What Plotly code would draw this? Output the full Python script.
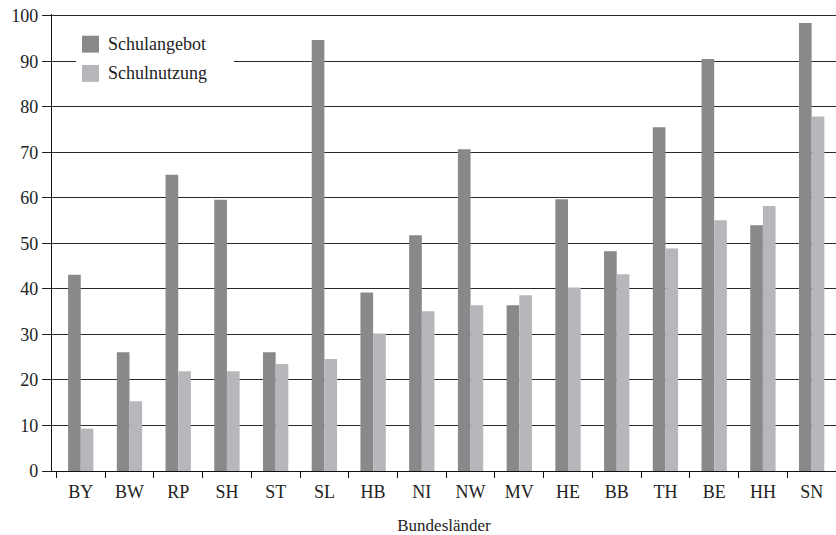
import plotly.graph_objects as go

laender = ["BY", "BW", "RP", "SH", "ST", "SL", "HB", "NI", "NW", "MV",
           "HE", "BB", "TH", "BE", "HH", "SN"]
schulangebot = [43.1, 26.1, 65.1, 59.6, 26.1, 94.7, 39.2, 51.8, 70.7, 36.4,
                59.7, 48.3, 75.5, 90.5, 54.0, 98.4]
schulnutzung = [9.3, 15.3, 21.9, 21.9, 23.5, 24.6, 30.2, 35.1, 36.4, 38.6,
                40.3, 43.2, 48.9, 55.1, 58.2, 77.9]
serien = ["Schulangebot", "Schulnutzung"]
farben = ["#88898b", "#b6b7ba"]

serif = "Liberation Serif, DejaVu Serif, serif"

fig = go.Figure()
for name, werte, farbe in zip(serien, [schulangebot, schulnutzung], farben):
    fig.add_trace(go.Bar(x=laender, y=werte, name=name, showlegend=False,
                         marker=dict(color=farbe, line=dict(width=0))))

# hand-made legend (white box over the 90 gridline, bigger squares)
fig.add_shape(type="rect", xref="paper", yref="paper",
              x0=0.0306, x1=0.232, y0=0.84, y1=0.975,
              fillcolor="white", line=dict(width=0), layer="above")
for i, (name, farbe) in enumerate(zip(serien, farben)):
    ymid = 0.934 - i * 0.064
    fig.add_shape(type="rect", xref="paper", yref="paper",
                  x0=0.0383, x1=0.0599, y0=ymid - 0.0185, y1=ymid + 0.0185,
                  fillcolor=farbe, line=dict(width=0), layer="above")
    fig.add_annotation(text=name, xref="paper", yref="paper",
                       x=0.0689, y=ymid, xanchor="left", yanchor="middle",
                       showarrow=False, font=dict(size=18))

fig.update_layout(
    width=836, height=535,
    margin=dict(l=52, r=0, t=14, b=64, autoexpand=False),
    paper_bgcolor="white", plot_bgcolor="white",
    font=dict(family=serif, size=18, color="#222"),
    barmode="group", bargap=0.48, bargroupgap=0,
    showlegend=False,
    xaxis=dict(
        type="category", range=[-0.59, 15.5],
        showline=True, linecolor="#111", linewidth=1.3,
        ticks="outside", tickson="boundaries", ticklen=6,
        tickcolor="#111", tickwidth=1.3,
        showgrid=False, automargin=False,
        tickfont=dict(size=18), ticklabelstandoff=4,
        title=dict(text="Bundesländer", font=dict(size=17), standoff=20),
    ),
    yaxis=dict(
        range=[0, 100.4], dtick=10, tick0=0,
        showline=True, linecolor="#111", linewidth=1.3,
        ticks="outside", ticklen=9, tickcolor="#222", tickwidth=1.3,
        showgrid=True, gridcolor="#2a2a2a", gridwidth=1.3,
        zeroline=False, automargin=False, ticklabeloverflow="allow",
        tickfont=dict(size=18),
    ),
)

# drop the default 8px page margin so the figure fills the window
fig.write_html("out.html", config={"displayModeBar": False},
               post_script="document.body.style.margin = '0';")
